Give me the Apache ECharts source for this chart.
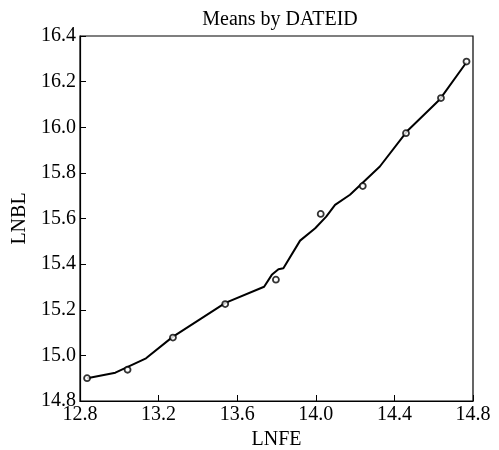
<!DOCTYPE html>
<html>
<head>
<meta charset="utf-8">
<script src="https://cdn.jsdelivr.net/npm/echarts@6/dist/echarts.min.js"></script>
<style>html,body{margin:0;padding:0;background:#fff}#c{width:499px;height:450px}</style>
</head>
<body>
<div id="c"></div>
<script>
const meanLNFE = [12.836, 13.042, 13.273, 13.539, 13.797, 14.025, 14.239, 14.459, 14.637, 14.767];
const meanLNBL = [14.900, 14.937, 15.078, 15.225, 15.332, 15.620, 15.742, 15.974, 16.128, 16.288];
const fitLNFE = [12.836, 12.98, 13.136, 13.27, 13.41, 13.54, 13.737, 13.776, 13.81, 13.835, 13.92, 13.997, 14.053, 14.098, 14.174, 14.326, 14.463, 14.632, 14.767];
const fitLNBL = [14.900, 14.924, 14.987, 15.080, 15.158, 15.230, 15.301, 15.353, 15.378, 15.382, 15.503, 15.557, 15.608, 15.660, 15.704, 15.828, 15.981, 16.123, 16.285];
const title = 'Means by DATEID';
const xName = 'LNFE';
const yName = 'LNBL';

const font = '"Liberation Serif", "Times New Roman", serif';
const chart = echarts.init(document.getElementById('c'));
chart.setOption({
  animation: false,
  backgroundColor: '#fff',
  title: {
    text: title, left: 275, top: 5, textAlign: 'center',
    textStyle: { fontFamily: font, fontSize: 20, fontWeight: 'normal', color: '#000' }
  },
  grid: { left: 80, right: 26, top: 36, bottom: 49, show: true, borderColor: '#000', borderWidth: 1.2, backgroundColor: 'transparent', containLabel: false, outerBoundsMode: 'none' },
  xAxis: {
    type: 'value', min: 12.8, max: 14.8, interval: 0.4,
    name: xName, nameLocation: 'middle', nameGap: 28,
    nameTextStyle: { fontFamily: font, fontSize: 20, color: '#000' },
    axisLine: { show: true, lineStyle: { color: '#000', width: 1.2 } },
    axisTick: { show: true, inside: true, length: 6, lineStyle: { color: '#000', width: 1 } },
    axisLabel: { fontFamily: font, fontSize: 20, color: '#000', margin: 4, formatter: v => v.toFixed(1) },
    splitLine: { show: false }
  },
  yAxis: {
    type: 'value', min: 14.8, max: 16.4, interval: 0.2,
    name: yName, nameLocation: 'middle', nameGap: 46, nameRotate: 90,
    nameTextStyle: { fontFamily: font, fontSize: 20, color: '#000' },
    axisLine: { show: true, lineStyle: { color: '#000', width: 1.2 } },
    axisTick: { show: true, inside: true, length: 6, lineStyle: { color: '#000', width: 1 } },
    axisLabel: { fontFamily: font, fontSize: 20, color: '#000', margin: 4, formatter: v => v.toFixed(1) },
    splitLine: { show: false }
  },
  series: [
    {
      type: 'line', data: fitLNFE.map((x, i) => [x, fitLNBL[i]]),
      showSymbol: false, smooth: false,
      lineStyle: { color: '#000', width: 2 }, z: 2
    },
    {
      type: 'scatter', data: meanLNFE.map((x, i) => [x, meanLNBL[i]]),
      symbol: 'circle', symbolSize: 6,
      itemStyle: { color: '#fff', borderColor: '#000', borderWidth: 1.8 }, z: 3
    }
  ]
});
</script>
</body>
</html>
